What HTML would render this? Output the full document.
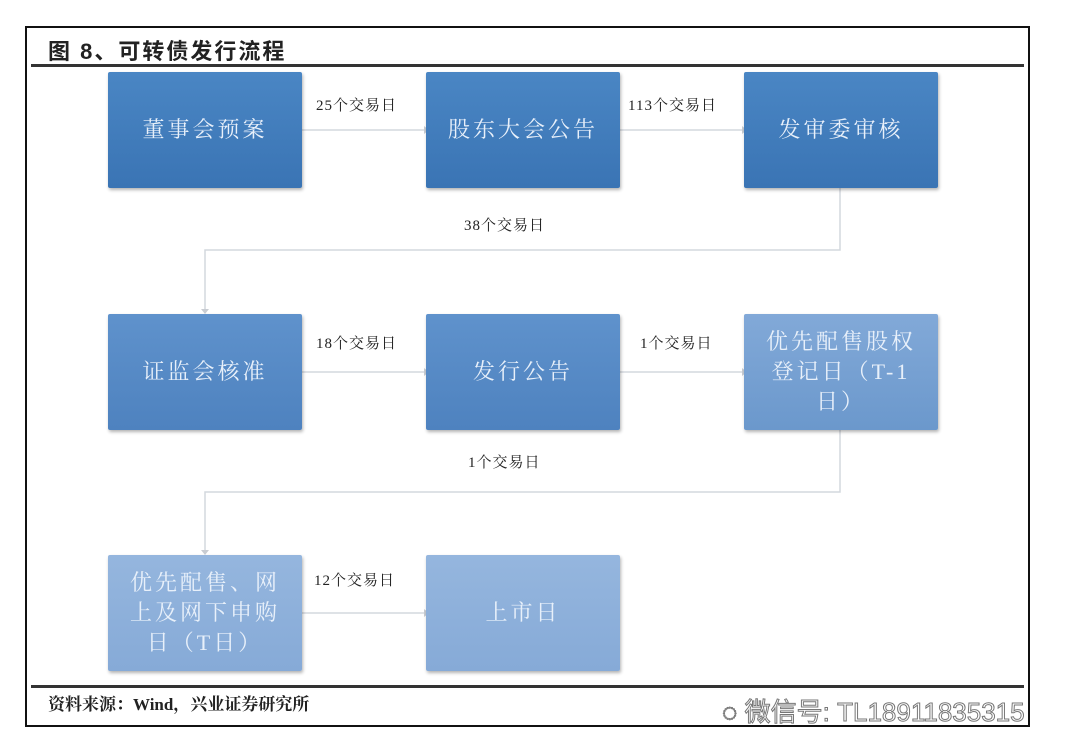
<!DOCTYPE html>
<html><head><meta charset="utf-8"><style>
body{margin:0;width:1069px;height:756px;background:#fff;position:relative;overflow:hidden;font-family:"Liberation Serif","Noto Serif CJK SC",serif}
.frame{position:absolute;left:25px;top:26px;width:1001px;height:697px;border:2px solid #111;box-sizing:content-box}
.b{position:absolute;width:194px;height:116px;color:#e8f0fa;font-size:22px;display:flex;align-items:center;justify-content:center;text-align:center;line-height:30px;letter-spacing:3px;box-shadow:1px 2px 3px rgba(0,0,0,.3);border-radius:2px}
.r1{background:linear-gradient(#4a86c4,#3a74b4)}
.r2{background:linear-gradient(#5f92cc,#4e82bf)}
.r2b{background:linear-gradient(#82a9d8,#6b98cc)}
.r3{background:linear-gradient(#95b6de,#86aad7)}
.l{position:absolute;font-size:15px;color:#222;letter-spacing:1px}
.t{position:absolute;left:48px;top:34px;font-size:22px;font-weight:bold;color:#222;font-family:"Liberation Sans","Noto Sans CJK SC",sans-serif;letter-spacing:2px}
</style></head><body>
<div class="frame"></div>
<div class="t">图 8、可转债发行流程</div>
<div style="position:absolute;left:31px;top:64px;width:993px;height:3px;background:#333"></div>
<div style="position:absolute;left:31px;top:685px;width:993px;height:3px;background:#333"></div>
<svg width="1069" height="756" style="position:absolute;left:0;top:0">
<g stroke="#d4d8de" stroke-width="1.5" fill="none">
<path d="M302 130H424M620 130H742M302 372H424M620 372H742M302 613H424"/>
<path d="M840 188V250H205V312"/>
<path d="M840 430V492H205V553"/>
</g>
<g fill="#c8ccd2">
<path d="M424 126l5 4-5 4z"/><path d="M742 126l5 4-5 4z"/><path d="M424 368l5 4-5 4z"/><path d="M742 368l5 4-5 4z"/><path d="M424 609l5 4-5 4z"/>
<path d="M201 309l4 5 4-5z"/><path d="M201 550l4 5 4-5z"/>
</g></svg>
<div class="b r1" style="left:108px;top:72px">董事会预案</div>
<div class="b r1" style="left:426px;top:72px">股东大会公告</div>
<div class="b r1" style="left:744px;top:72px">发审委审核</div>
<div class="b r2" style="left:108px;top:314px">证监会核准</div>
<div class="b r2" style="left:426px;top:314px">发行公告</div>
<div class="b r2b" style="left:744px;top:314px">优先配售股权<br>登记日（T-1<br>日）</div>
<div class="b r3" style="left:108px;top:555px">优先配售、网<br>上及网下申购<br>日（T日）</div>
<div class="b r3" style="left:426px;top:555px">上市日</div>
<div class="l" style="left:316px;top:94px">25个交易日</div>
<div class="l" style="left:628px;top:94px">113个交易日</div>
<div class="l" style="left:464px;top:214px">38个交易日</div>
<div class="l" style="left:316px;top:332px">18个交易日</div>
<div class="l" style="left:640px;top:332px">1个交易日</div>
<div class="l" style="left:468px;top:451px">1个交易日</div>
<div class="l" style="left:314px;top:569px">12个交易日</div>
<div style="position:absolute;left:48px;top:690px;font-size:17px;color:#222;font-weight:bold">资料来源：Wind，兴业证券研究所</div>
<div style="position:absolute;left:722px;top:692px;font-size:26px;color:#fff;-webkit-text-stroke:1px #777;font-family:'Liberation Sans','Noto Sans CJK SC',sans-serif;letter-spacing:0px;white-space:nowrap">◌ 微信号: TL18911835315</div>
</body></html>
